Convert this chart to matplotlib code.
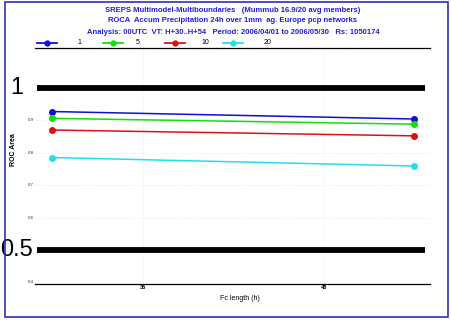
import matplotlib
matplotlib.use("Agg")
import matplotlib.pyplot as plt
from matplotlib.lines import Line2D
from matplotlib.patches import Rectangle

# Forecast lead times (h) and ROC area per probability threshold member count
lead_times = [30, 54]
series_labels = ["1", "5", "10", "20"]
series_colors = ["#1010d0", "#10e010", "#e01010", "#20e0f0"]
roc_area = {
    "1": [0.927, 0.904],
    "5": [0.906, 0.888],
    "10": [0.870, 0.852],
    "20": [0.785, 0.759],
}
minor_y_ticks = [0.4, 0.6, 0.7, 0.8, 0.9]
major_y_ticks = [0.5, 1.0]
x_ticks = [36, 48]

title_lines = [
    "SREPS Multimodel-Multiboundaries   (Mummub 16.9/20 avg members)",
    "ROCA  Accum Precipitation 24h over 1mm  ag. Europe pcp networks",
    "Analysis: 00UTC  VT: H+30..H+54   Period: 2006/04/01 to 2006/05/30   Rs: 1050174",
]

plt.rcParams["font.family"] = ["Liberation Sans", "DejaVu Sans"]

fig = plt.figure(figsize=(4.52, 3.25), dpi=100)
fig.patch.set_facecolor("white")

# outer frame
fig.patches.append(Rectangle((5 / 452, 1 - 317 / 325), 443 / 452, 315 / 325,
                             transform=fig.transFigure, fill=False,
                             edgecolor="#3030b0", lw=1.2))

ax = fig.add_axes([35 / 452, 1 - 284 / 325, 395 / 452, 236 / 325])
ax.set_xlim(28.87, 55.06)
ax.set_ylim(0.395, 1.123)
for side in ["left", "right"]:
    ax.spines[side].set_visible(False)
ax.spines["top"].set_linewidth(0.9)
ax.spines["bottom"].set_linewidth(0.9)

# faint dotted grid
for y in [0.6, 0.7, 0.8, 0.9]:
    ax.axhline(y, color="#e6e6e6", lw=0.6, ls=(0, (1, 1.5)), zorder=0)
for x in x_ticks:
    ax.axvline(x, color="#e6e6e6", lw=0.6, ls=(0, (1, 1.5)), zorder=0)

# heavy reference lines
for y in major_y_ticks:
    ax.plot([29.0, 54.7], [y, y], color="black", lw=4.2, solid_capstyle="butt", zorder=2)

for lab, col in zip(series_labels, series_colors):
    ax.plot(lead_times, roc_area[lab], color=col, lw=1.1, marker="o",
            markersize=4, zorder=3)

ax.set_xticks(x_ticks)
ax.set_xticklabels([str(t) for t in x_ticks], fontsize=4, fontweight="bold")
ax.tick_params(axis="x", length=0, pad=1)
ax.set_yticks(minor_y_ticks + major_y_ticks)
ax.set_yticklabels([])
ax.tick_params(axis="y", length=0)
for y in minor_y_ticks:
    ax.text(28.8, y, "%.1f" % y, fontsize=3.2, ha="right", va="center", color="#333333")
ax.text(28.07, 1.0, "1", fontsize=17, ha="right", va="center")
ax.text(28.7, 0.5, "0.5", fontsize=17, ha="right", va="center")

fig.text(14 / 452, 1 - 150 / 325, "ROC Area", rotation=90, fontsize=5,
         fontweight="bold", ha="center", va="center")
fig.text(240 / 452, 1 - 298 / 325, "Fc length (h)", fontsize=5, ha="center", va="center")

for i, line in enumerate(title_lines):
    fig.text(233 / 452, 1 - (10 + 11 * i) / 325, line, fontsize=5.5, fontweight="bold",
             color="#2020d8", ha="center", va="center")

# legend row
legend_marker_x = [47, 113, 175, 233]
legend_label_x = [79, 138, 205, 268]
ly = 1 - 43 / 325
for lab, col, mx, tx in zip(series_labels, series_colors, legend_marker_x, legend_label_x):
    fig.add_artist(Line2D([(mx - 10) / 452, (mx + 10) / 452], [ly, ly],
                          transform=fig.transFigure, color=col, lw=1.3))
    fig.add_artist(Line2D([mx / 452], [ly], transform=fig.transFigure, color=col,
                          marker="o", markersize=3.5))
    fig.text(tx / 452, ly, lab, fontsize=5, ha="center", va="center")

fig.savefig("out.png", dpi=100)
